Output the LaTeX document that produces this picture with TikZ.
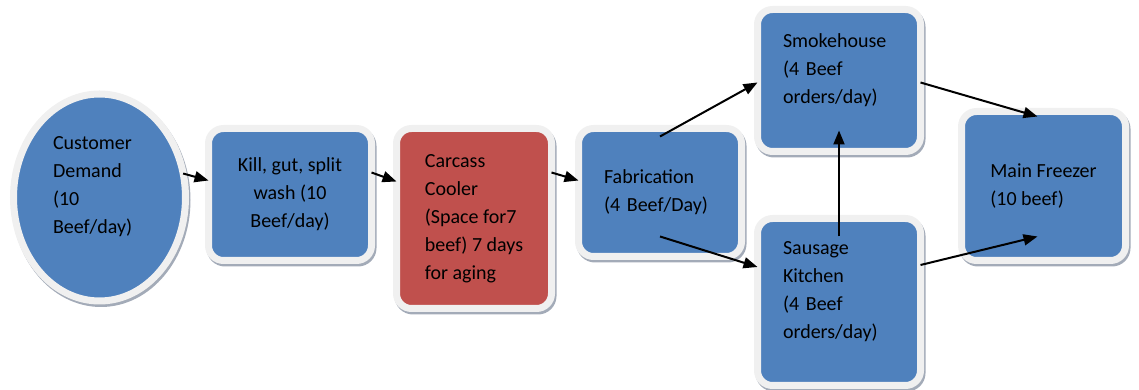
\documentclass[tikz,border=0pt]{standalone}
\usepackage{fontspec}
\setmainfont{Carlito}
\usetikzlibrary{shapes.geometric, shadows, arrows.meta}

\definecolor{boxblue}{HTML}{4F81BD}
\definecolor{boxred}{HTML}{C0504D}
\definecolor{ringgray}{HTML}{F0F0F0}
\definecolor{shadegray}{HTML}{A3ABB8}

\newcommand{\textlift}{\\[-4pt]\mbox{}}

\tikzset{
    stage/.style = {rounded corners = 15pt, fill = boxblue, draw = ringgray, line width = 7pt,
        outer sep = 0pt, text = black, font = \fontsize{20}{28}\selectfont,
        drop shadow = {shadow xshift = 1.5pt, shadow yshift = -2.5pt, opacity = 1,
            fill = shadegray, draw = shadegray, line width = 7pt}},
    flow/.style = {-{Triangle[length = 14pt, width = 11pt]}, line width = 2pt}
}

\begin{document}
\begin{tikzpicture}[x = 1pt, y = 1pt]

        \useasboundingbox (0, 0) rectangle (1139, 390);

        \node (demand) at (99.5, 192.5) [stage, ellipse, minimum width = 172pt, minimum height = 207pt, align = left, text width = 93pt] {Customer\\Demand\\(10\\Beef/day)\textlift};

        \node (kill) at (290, 195.5) [stage, minimum width = 163pt, minimum height = 132pt, align = center] {Kill, gut, split\\wash (10\\Beef/day)};

        \node (carcass) at (474, 171.5) [stage, fill = boxred, minimum width = 155pt, minimum height = 180pt, align = left] {Carcass\\Cooler\\(Space for7\\beef) 7 days\\for aging};

        \node (fab) at (660, 197.5) [stage, minimum width = 163pt, minimum height = 128pt, align = left, text width = 112pt] {Fabrication\\(4 Beef/Day)};

        \node (smoke) at (839, 309.5) [stage, minimum width = 163pt, minimum height = 142pt, align = left, text width = 112pt] {Smokehouse\\(4 Beef\\orders/day)\textlift};

        \node (sausage) at (839, 88) [stage, minimum width = 163pt, minimum height = 167pt, align = left, text width = 112pt] {Sausage\\Kitchen\\(4 Beef\\orders/day)\textlift};

        \node (freezer) at (1043.5, 204) [stage, minimum width = 164pt, minimum height = 149pt, align = left] {Main Freezer\\(10 beef)};

        \draw [flow] (demand.16) -- ([yshift = 14pt]kill.west);
        \draw [flow] ([yshift = 22pt]kill.east) -- ([yshift = 37pt]carcass.west);
        \draw [flow] ([yshift = 46pt]carcass.east) -- ([yshift = 12pt]fab.west);
        \draw [flow] ([yshift = -8pt]fab.north) -- ([yshift = -2pt]smoke.west);
        \draw [flow] ([yshift = 20pt]fab.south) -- ([yshift = 35pt]sausage.west);
        \draw [flow] ([yshift = -18pt]sausage.north) -- ([yshift = 21pt]smoke.south);
        \draw [flow] ([yshift = -2pt]smoke.east) -- ([xshift = -6pt, yshift = -5pt]freezer.north);
        \draw [flow] ([yshift = 37pt]sausage.east) -- ([xshift = -6pt, yshift = 24pt]freezer.south);

    \end{tikzpicture}
\end{document}
